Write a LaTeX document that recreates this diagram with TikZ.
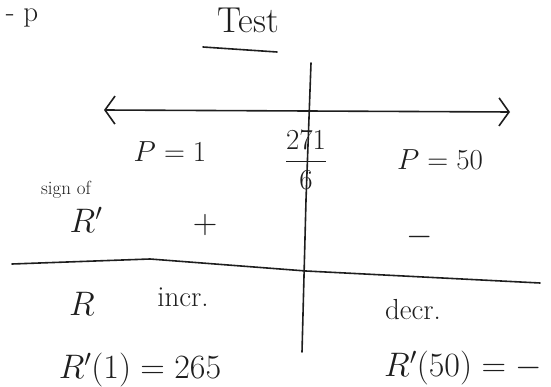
\RequirePackage{fix-cm}
\documentclass[tikz,border=0pt]{standalone}
\usepackage{xcolor}
\usepackage{amsmath}
\usepackage{tikz}
\usetikzlibrary{arrows.meta}
\definecolor{inkdark}{HTML}{1E1E1E}
\tikzset{
  handtext/.style={text=inkdark, inner sep=0pt},
  bigtext/.style={handtext, font=\fontsize{34}{38}\selectfont},
  midtext/.style={handtext, font=\fontsize{29}{33}\selectfont},
  smalltext/.style={handtext, font=\fontsize{19}{21}\selectfont},
  pen/.style={draw=inkdark, line width=1.6pt, line cap=round, line join=round},
  barb/.style={pen, {Straight Barb[length=10pt,width=28pt]}-{Straight Barb[length=10pt,width=28pt]}}
}

\begin{document}
\begin{tikzpicture}[x=1pt,y=-1pt]
  \useasboundingbox (0,0) rectangle (551,387);

  \node[midtext] (corner) at (22,18) {- p};
  \node[bigtext, font=\fontsize{36}{40}\selectfont] (title) at (248,20) {Test};
  \coordinate (ulineA) at (203,47);
  \coordinate (ulineB) at (277,52);
  \draw[pen] (ulineA) -- (ulineB);

  % number line and split
  \coordinate (axisL) at (104,110);
  \coordinate (axisR) at (510,112);
  \draw[barb] (axisL) -- (axisR);
  \coordinate (splitTop) at (311,63);
  \coordinate (splitMid) at (306,200);
  \coordinate (splitBot) at (302,352);
  \draw[pen] (splitTop) -- (splitMid) -- (splitBot);

  \node[midtext] (testL) at (170,152) {$P=1$};
  \node[midtext] (crit) at (306,160) {$\dfrac{271}{6}$};
  \node[midtext] (testR) at (440,160) {$P=50$};

  \node[smalltext] (signlbl) at (66,190) {sign of};
  \node[bigtext] (rprime) at (86,220) {$R'$};
  \node[bigtext] (plus) at (205,225) {$+$};
  \node[bigtext] (minus) at (420,237) {$-$};

  % row divider
  \coordinate (rowL) at (12,264);
  \coordinate (rowA) at (150,259);
  \coordinate (rowM) at (306,271);
  \coordinate (rowR) at (540,283);
  \draw[pen] (rowL) -- (rowA) -- (rowM) -- (rowR);

  \node[bigtext] (rlbl) at (82,304) {$R$};
  \node[midtext] (incr) at (183,297) {incr.};
  \node[midtext] (decr) at (413,310) {decr.};
  \node[bigtext] (valL) at (140,370) {$R'(1)=265$};
  \node[bigtext, anchor=west] (valR) at (384,368) {$R'(50)=-$};
\end{tikzpicture}
\end{document}
